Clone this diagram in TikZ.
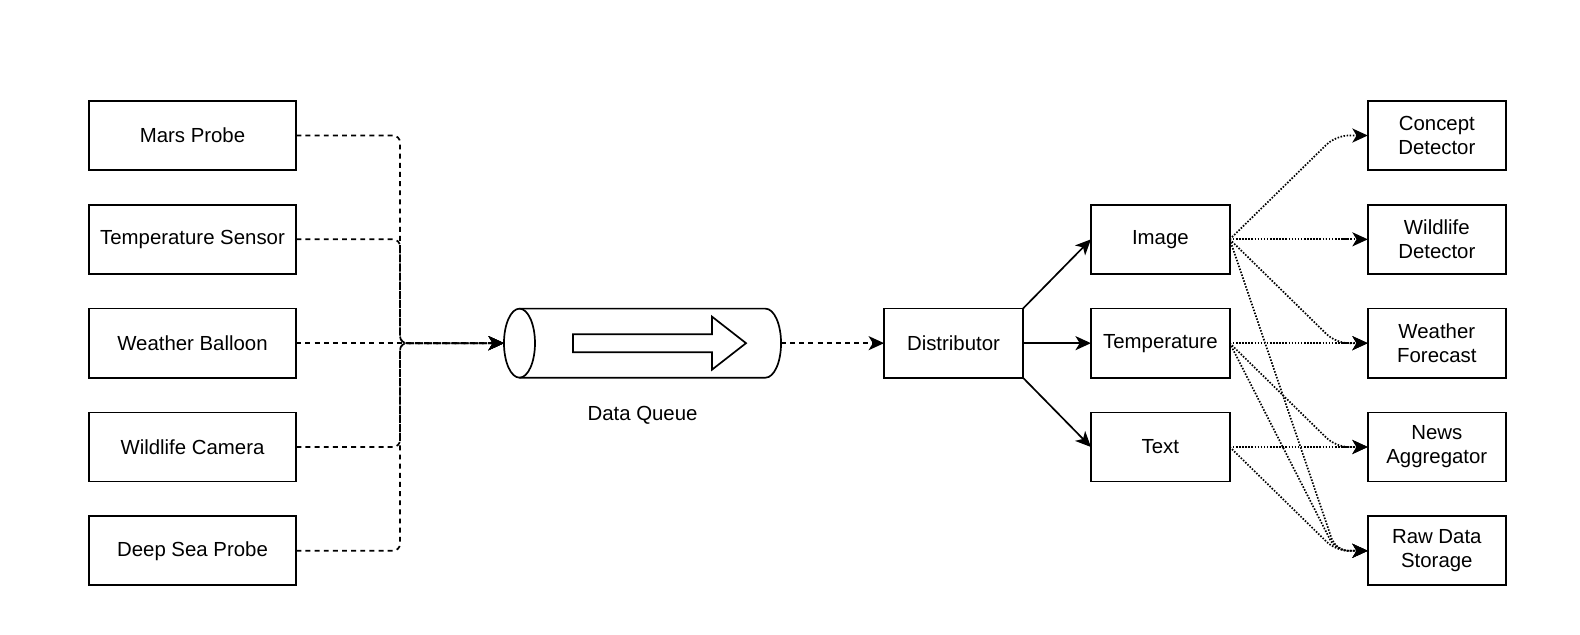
\documentclass[tikz,border=0pt]{standalone}
\usepackage{fontspec}
\setmainfont{Liberation Sans}
\usepackage{tikz}
\usetikzlibrary{arrows.meta}
\usetikzlibrary{calc}
\usetikzlibrary{positioning}

\begin{document}
\begin{tikzpicture}[
  x=0.025cm, y=-0.025cm,
  line width=1.2pt,
  every node/.style={font=\fontsize{14.5}{17.2}\selectfont, align=center},
  srcBox/.style={draw, rectangle, minimum width=5.19cm, minimum height=1.725cm, inner sep=0pt, outer sep=0pt},
  typeBox/.style={draw, rectangle, minimum width=3.47cm, minimum height=1.725cm, inner sep=0pt, outer sep=0pt},
  % solidFlow/.style={->},
]

\tikzset{
  tipArrow/.style={-{Stealth[length=11pt, width=10pt, inset=3pt]}},
  dashFlow/.style={tipArrow, dash pattern=on 3.5pt off 3pt, rounded corners=5pt},
  dotFlow/.style={tipArrow, dash pattern=on 1.1pt off 1.1pt, rounded corners=9pt},
  solidFlow/.style={tipArrow}
}

\useasboundingbox (0,0) rectangle (1580,634);

% --- Begin Sources ---
\begin{scope}[every node/.append style={srcBox}]
\node at (192.5,135.5) (srcMars) {Mars Probe};
\node [below=0.87cm of srcMars] (srcTemp) {Temperature Sensor};
\node [below=0.87cm of srcTemp] (srcBalloon) {Weather Balloon};
\node [below=0.87cm of srcBalloon] (srcCamera) {Wildlife Camera};
\node [below=0.87cm of srcCamera] (srcSea) {Deep Sea Probe};
\end{scope}

% --- Begin Queue ---
\node [minimum width=6.925cm, minimum height=1.725cm, inner sep=0pt, outer sep=0pt,
  right=5.19cm of srcBalloon,
  label={[label distance=0.575cm]below:Data Queue}] (dataQueue) {};
\draw ([xshift=0.3875cm]dataQueue.west) ellipse [x radius=0.3875cm, y radius=0.8625cm];
\draw ([xshift=0.3875cm]dataQueue.north west) -- ([xshift=-0.3875cm]dataQueue.north east)
  arc[start angle=90, end angle=-90, x radius=0.3875cm, y radius=0.8625cm]
  -- ([xshift=0.3875cm]dataQueue.south west);
\draw [shift={(dataQueue.center)}] (-69.5,-9) -- (69.5,-9) -- (69.5,-26.5) -- (103.5,0)
  -- (69.5,26.5) -- (69.5,9) -- (-69.5,9) -- cycle;

\coordinate (queueIn) at ($(srcBalloon.east)+(103.7,0)$);

% --- Begin Types ---
\begin{scope}[every node/.append style={typeBox}]
\node [right=2.575cm of dataQueue] (distNode) {Distributor};
\node [right=1.7cm of distNode] (typeTemp) {Temperature};
\node [above=0.87cm of typeTemp] (typeImage) {Image};
\node [below=0.87cm of typeTemp] (typeText) {Text};
\end{scope}

% --- Begin Sinks ---
\begin{scope}[every node/.append style={typeBox, minimum width=3.45cm}]
\node [right=3.45cm of typeTemp] (sinkWeather) {Weather\\Forecast};
\node [above=0.87cm of sinkWeather] (sinkWildlife) {Wildlife\\Detector};
\node [above=0.87cm of sinkWildlife] (sinkConcept) {Concept\\Detector};
\node [below=0.87cm of sinkWeather] (sinkNews) {News\\Aggregator};
\node [below=0.87cm of sinkNews] (sinkRaw) {Raw Data\\Storage};
\end{scope}

\foreach \src in {srcMars,srcTemp,srcCamera,srcSea} {
  \draw [dashFlow] (\src.east) -| (queueIn) -- (dataQueue.west);
}
\draw [dashFlow] (srcBalloon.east) -- (dataQueue.west);
\draw [dashFlow] (dataQueue.east) -- (distNode.west);

\draw [solidFlow] (distNode.north east) -- (typeImage.west);
\draw [solidFlow] (distNode.east) -- (typeTemp.west);
\draw [solidFlow] (distNode.south east) -- (typeText.west);

\foreach \a/\b in {typeImage/sinkConcept, typeImage/sinkWildlife, typeImage/sinkWeather,
  typeImage/sinkRaw, typeTemp/sinkWeather, typeTemp/sinkNews, typeTemp/sinkRaw,
  typeText/sinkNews, typeText/sinkRaw} {
  \draw [dotFlow] (\a.east) -- ([xshift=-0.8cm]\b.west) -- (\b.west);
}

\end{tikzpicture}
\end{document}
